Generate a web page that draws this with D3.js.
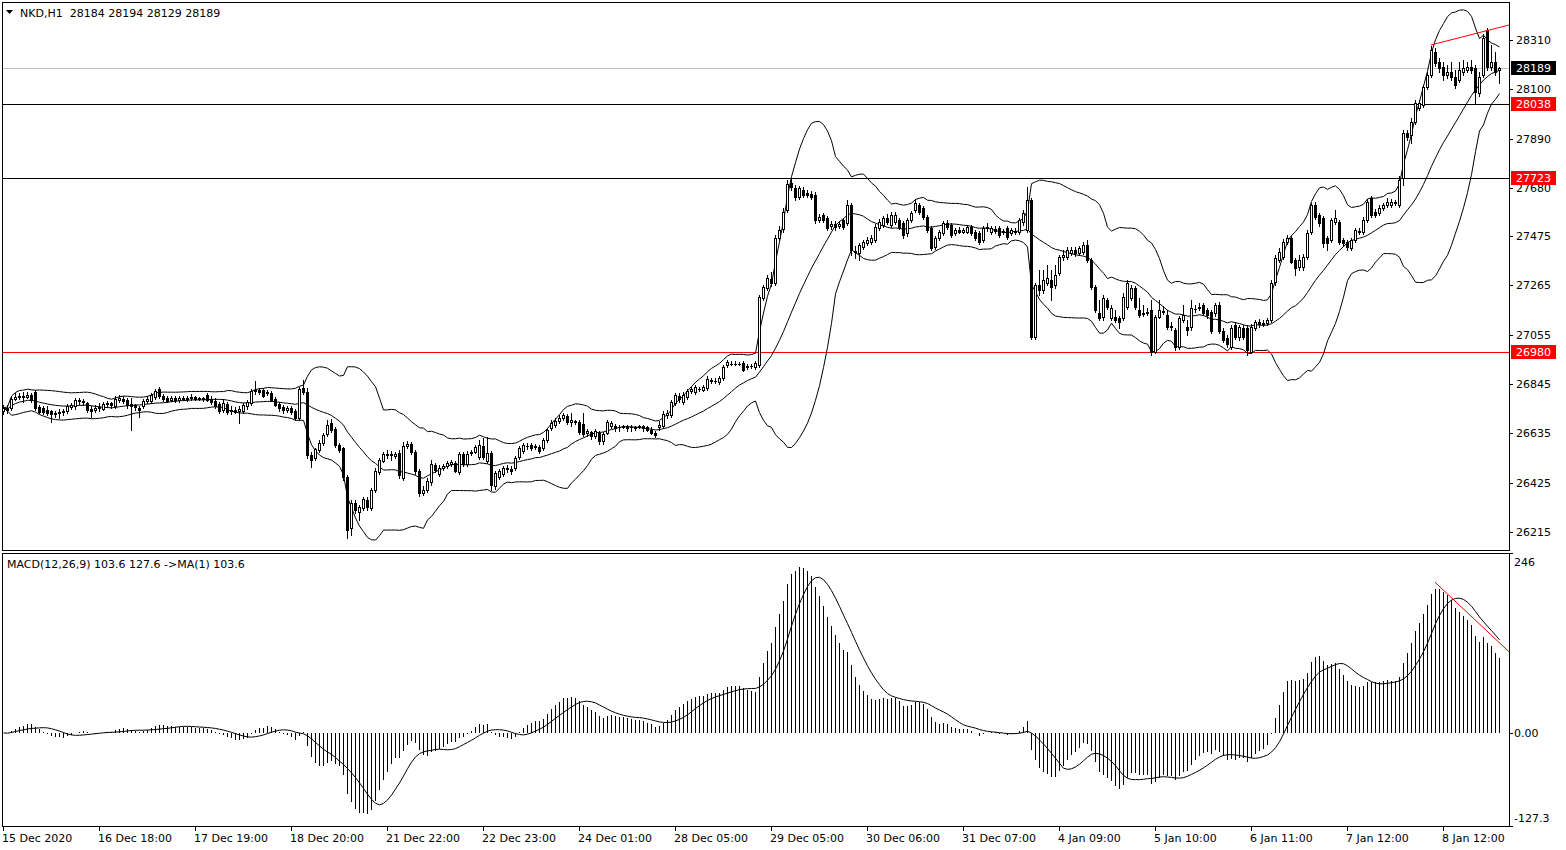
<!DOCTYPE html>
<html><head><meta charset="utf-8">
<script src="https://cdn.jsdelivr.net/npm/d3@7"></script>
<style>
body{margin:0;background:#fff;}
svg{display:block;}
text{font-family:"DejaVu Sans",sans-serif;font-size:11px;fill:#000;white-space:pre;}
</style>
</head><body>
<svg id="c" width="1566" height="850"></svg>
<script>
// ---------- DATA (NKD, H1) ----------
const OPEN=[
26730,26743,26743,26781,26789,26793,26789,26798,26810,26747,
26743,26734,26730,26717,26721,26726,26730,26747,26751,26777,
26773,26764,26738,26734,26743,26738,26760,26764,26751,26777,
26781,26777,26760,26756,26743,26751,26773,26773,26789,26823,
26793,26785,26777,26785,26777,26785,26781,26785,26789,26781,
26785,26798,26781,26773,26760,26734,26760,26730,26734,26730,
26730,26751,26764,26815,26819,26819,26806,26806,26781,26760,
26747,26734,26743,26730,26700,26828,26810,26543,26530,26564,
26594,26632,26679,26654,26585,26573,26449,26232,26338,26300,
26317,26351,26317,26394,26470,26517,26547,26543,26538,26551,
26445,26581,26590,26556,26474,26381,26394,26428,26500,26462,
26487,26496,26504,26509,26470,26547,26504,26551,26556,26534,
26581,26517,26551,26411,26449,26462,26487,26483,26487,26534,
26560,26581,26585,26577,26577,26573,26607,26658,26671,26688,
26700,26709,26683,26683,26683,26675,26637,26641,26624,26637,
26603,26637,26666,26666,26662,26662,26666,26662,26662,26662,
26666,26662,26649,26637,26662,26666,26713,26713,26764,26793,
26768,26789,26815,26810,26823,26819,26828,26858,26858,26853,
26870,26926,26930,26932,26930,26934,26922,26920,26917,26926,
27211,27254,27292,27275,27467,27505,27586,27701,27680,27641,
27671,27658,27654,27650,27543,27565,27552,27518,27526,27518,
27543,27531,27607,27411,27403,27428,27445,27450,27458,27509,
27522,27552,27522,27535,27543,27531,27488,27543,27586,27607,
27594,27556,27509,27428,27467,27488,27531,27522,27488,27501,
27492,27492,27513,27492,27488,27458,27509,27492,27505,27509,
27492,27509,27488,27496,27492,27535,27501,27628,27045,27266,
27245,27275,27288,27266,27318,27386,27386,27403,27416,27403,
27407,27437,27373,27258,27147,27130,27203,27126,27130,27126,
27126,27173,27211,27254,27160,27147,27152,27160,26981,27130,
27156,27139,27092,27075,27003,27117,27088,27088,27164,27169,
27181,27160,27152,27147,27181,27071,27041,27003,27096,27045,
27083,27083,26981,27083,27109,27105,27105,27117,27279,27373,
27386,27450,27467,27373,27343,27343,27386,27492,27607,27565,
27552,27467,27458,27535,27535,27458,27450,27424,27458,27492,
27492,27543,27637,27577,27573,27594,27607,27607,27620,27607,
27722,27913,27905,27961,28020,28033,28110,28161,28259,28216,
28195,28161,28173,28152,28139,28173,28182,28195,28191,28084,
28161,28352,28195,28216,28184];
const HIGH=[
26756,26756,26794,26806,26806,26810,26810,26806,26819,26756,
26751,26751,26734,26730,26738,26738,26760,26764,26785,26785,
26781,26768,26751,26756,26764,26768,26773,26768,26793,26798,
26793,26785,26785,26760,26751,26781,26793,26806,26823,26832,
26802,26793,26793,26793,26793,26793,26793,26802,26793,26789,
26789,26806,26793,26785,26768,26781,26768,26751,26747,26751,
26764,26777,26823,26858,26828,26828,26819,26815,26789,26768,
26756,26751,26751,26738,26832,26862,26828,26556,26573,26607,
26637,26692,26696,26662,26594,26577,26458,26351,26351,26330,
26364,26364,26402,26487,26530,26556,26564,26560,26556,26564,
26598,26602,26598,26564,26483,26411,26445,26521,26509,26500,
26504,26517,26521,26517,26556,26556,26560,26564,26585,26607,
26615,26620,26560,26475,26483,26496,26500,26496,26539,26581,
26594,26594,26594,26590,26585,26615,26658,26692,26700,26713,
26721,26717,26721,26692,26692,26721,26654,26645,26654,26645,
26641,26692,26688,26675,26671,26671,26671,26671,26666,26671,
26671,26666,26662,26645,26688,26730,26734,26777,26806,26806,
26810,26823,26832,26840,26832,26840,26879,26870,26870,26879,
26926,26947,26943,26943,26939,26943,26930,26930,26943,27224,
27266,27309,27322,27479,27518,27594,27714,27722,27693,27688,
27684,27671,27667,27663,27569,27573,27560,27539,27539,27539,
27552,27628,27616,27433,27445,27458,27471,27479,27526,27548,
27560,27569,27577,27577,27552,27539,27552,27582,27633,27616,
27603,27565,27518,27475,27501,27539,27543,27531,27509,27513,
27509,27522,27522,27501,27496,27518,27531,27518,27518,27518,
27505,27518,27509,27509,27552,27586,27684,27637,27275,27330,
27330,27352,27330,27352,27394,27416,27428,27428,27428,27433,
27450,27458,27382,27266,27203,27224,27211,27181,27160,27135,
27232,27288,27266,27262,27211,27181,27169,27203,27139,27203,
27177,27160,27109,27083,27135,27181,27117,27203,27181,27190,
27190,27169,27160,27190,27194,27083,27054,27096,27109,27096,
27096,27096,27100,27117,27122,27117,27126,27288,27394,27424,
27463,27479,27475,27382,27394,27399,27501,27616,27620,27573,
27560,27475,27552,27586,27543,27467,27458,27467,27509,27509,
27556,27633,27645,27590,27607,27616,27637,27633,27628,27731,
27926,27926,27978,28054,28054,28118,28173,28284,28276,28233,
28216,28203,28216,28182,28216,28225,28216,28225,28203,28173,
28335,28361,28289,28259,28194];
const LOW=[
26717,26721,26734,26777,26781,26768,26785,26768,26734,26721,
26717,26713,26683,26704,26700,26713,26721,26738,26738,26760,
26756,26726,26704,26726,26730,26734,26747,26743,26743,26768,
26764,26743,26649,26734,26704,26743,26764,26764,26781,26785,
26773,26768,26773,26768,26768,26777,26773,26777,26777,26777,
26773,26773,26760,26743,26721,26726,26717,26717,26721,26679,
26721,26738,26756,26802,26802,26789,26798,26773,26751,26730,
26721,26726,26717,26692,26692,26802,26530,26492,26521,26556,
26585,26624,26641,26577,26556,26436,26189,26202,26296,26266,
26309,26309,26309,26385,26462,26513,26530,26521,26530,26445,
26436,26573,26547,26462,26368,26372,26385,26415,26470,26453,
26479,26487,26496,26470,26462,26496,26496,26543,26551,26526,
26526,26509,26394,26398,26441,26453,26470,26462,26479,26526,
26551,26568,26564,26568,26551,26564,26598,26649,26662,26679,
26692,26675,26666,26675,26632,26624,26624,26611,26615,26590,
26590,26632,26658,26645,26645,26658,26645,26645,26649,26658,
26645,26645,26632,26620,26649,26658,26700,26704,26756,26768,
26760,26781,26806,26802,26815,26815,26819,26849,26849,26845,
26862,26917,26926,26926,26926,26900,26909,26913,26909,26917,
27203,27245,27262,27266,27458,27492,27577,27671,27628,27633,
27641,27641,27633,27530,27535,27535,27501,27505,27501,27509,
27505,27522,27394,27382,27373,27420,27437,27441,27450,27501,
27513,27526,27513,27526,27505,27467,27475,27535,27577,27569,
27548,27492,27416,27420,27458,27479,27505,27471,27479,27488,
27488,27488,27479,27458,27441,27450,27496,27484,27488,27471,
27484,27462,27479,27484,27484,27522,27492,27037,27037,27224,
27232,27266,27203,27254,27309,27373,27377,27394,27390,27394,
27399,27364,27250,27152,27117,27117,27164,27117,27109,27083,
27117,27164,27203,27164,27130,27135,27139,26969,26977,27126,
27143,27079,27075,26990,26994,27109,27054,27075,27152,27160,
27139,27126,27062,27135,27062,27024,27003,26994,27037,27032,
27037,26969,26977,27075,27088,27092,27096,27109,27266,27364,
27377,27441,27360,27309,27330,27330,27377,27484,27548,27518,
27428,27416,27450,27526,27441,27433,27416,27416,27450,27484,
27484,27535,27556,27556,27565,27586,27599,27599,27607,27599,
27692,27884,27871,27952,28012,28024,28101,28152,28199,28173,
28139,28148,28139,28105,28131,28161,28173,28169,28041,28071,
28152,28182,28182,28161,28129];
const CLOSE=[
26743,26734,26781,26789,26793,26789,26798,26777,26743,26726,
26726,26721,26717,26721,26726,26730,26751,26756,26777,26773,
26768,26734,26730,26743,26747,26760,26764,26756,26781,26785,
26773,26756,26751,26747,26734,26773,26781,26798,26815,26793,
26781,26773,26785,26777,26785,26781,26785,26789,26781,26785,
26781,26777,26768,26751,26730,26764,26726,26734,26726,26738,
26756,26768,26815,26819,26810,26793,26810,26777,26756,26743,
26734,26743,26726,26700,26823,26810,26543,26521,26568,26594,
26628,26671,26649,26585,26564,26449,26223,26338,26309,26321,
26355,26321,26394,26474,26521,26547,26543,26547,26547,26458,
26581,26590,26556,26474,26381,26394,26432,26504,26479,26487,
26496,26509,26513,26474,26547,26504,26547,26556,26577,26585,
26534,26551,26415,26466,26475,26487,26483,26475,26530,26573,
26585,26583,26573,26581,26560,26607,26649,26679,26688,26700,
26713,26683,26692,26688,26641,26632,26645,26624,26645,26603,
26632,26683,26679,26658,26660,26666,26658,26664,26658,26666,
26658,26649,26637,26628,26671,26717,26721,26768,26798,26781,
26798,26815,26823,26832,26825,26832,26866,26860,26856,26870,
26917,26939,26932,26930,26932,26905,26917,26922,26934,27215,
27258,27296,27275,27467,27501,27577,27697,27684,27641,27680,
27650,27650,27641,27543,27556,27543,27509,27526,27513,27526,
27513,27607,27416,27407,27437,27450,27458,27467,27513,27535,
27552,27535,27565,27565,27513,27479,27543,27573,27616,27577,
27556,27501,27424,27467,27492,27531,27513,27479,27501,27492,
27501,27513,27488,27467,27450,27509,27513,27509,27496,27479,
27496,27471,27501,27492,27543,27573,27628,27045,27266,27245,
27288,27296,27258,27309,27386,27394,27416,27416,27403,27424,
27437,27373,27258,27160,27126,27211,27173,27169,27117,27109,
27215,27275,27254,27173,27139,27143,27147,26981,27130,27160,
27152,27088,27088,27003,27126,27139,27075,27169,27166,27173,
27147,27139,27071,27181,27071,27032,27015,27083,27045,27088,
27045,26990,27088,27109,27100,27100,27117,27275,27382,27407,
27450,27467,27364,27339,27373,27386,27488,27607,27556,27531,
27445,27445,27543,27552,27450,27445,27428,27458,27501,27496,
27543,27620,27565,27565,27594,27607,27620,27620,27616,27714,
27913,27896,27961,28041,28041,28110,28161,28267,28212,28191,
28161,28173,28152,28118,28182,28191,28195,28182,28088,28152,
28318,28195,28216,28173,28189];

const timeLabels=[
 {bar:0,text:"15 Dec 2020"},{bar:24,text:"16 Dec 18:00"},{bar:48,text:"17 Dec 19:00"},
 {bar:72,text:"18 Dec 20:00"},{bar:96,text:"21 Dec 22:00"},{bar:120,text:"22 Dec 23:00"},
 {bar:144,text:"24 Dec 01:00"},{bar:168,text:"28 Dec 05:00"},{bar:192,text:"29 Dec 05:00"},
 {bar:216,text:"30 Dec 06:00"},{bar:240,text:"31 Dec 07:00"},{bar:264,text:"4 Jan 09:00"},
 {bar:288,text:"5 Jan 10:00"},{bar:312,text:"6 Jan 11:00"},{bar:336,text:"7 Jan 12:00"},
 {bar:360,text:"8 Jan 12:00"}];
const priceTicks=[28310,28100,27890,27680,27475,27265,27055,26845,26635,26425,26215];
const macdTicks=[{v:246,t:"246"},{v:0,t:"0.00"},{v:-127.3,t:"-127.3"}];
const levels=[
 {p:28189,color:"#c0c0c0",box:"#000000"},
 {p:28038,color:"#000000",box:"#ff0000"},
 {p:27723,color:"#000000",box:"#ff0000"},
 {p:26980,color:"#ff0000",box:"#ff0000"}];
const priceTrend=[{bar:357,p:28289},{bar:376.5,p:28374}];
const macdTrend=[{bar:358,v:206},{bar:376.5,v:111}];
const headerText="NKD,H1  28184 28194 28129 28189";
const macdText="MACD(12,26,9) 103.6 127.6 ->MA(1) 103.6";

// ---------- INDICATORS ----------
const N=CLOSE.length;
const bb=CLOSE.map((c,i)=>{
  const s=CLOSE.slice(Math.max(0,i-19),i+1);
  const m=d3.mean(s);
  const sd=Math.sqrt(d3.mean(s,v=>(v-m)*(v-m)));
  return {i,m,u:m+2*sd,l:m-2*sd};
});
function ema(arr,n){const a=2/(n+1);let e=arr[0];return arr.map((v,i)=>i===0?e:(e=a*v+(1-a)*e));}
const e12=ema(CLOSE,12), e26=ema(CLOSE,26);
const macd=e12.map((v,i)=>v-e26[i]);
const signal=macd.map((v,i)=>d3.mean(macd.slice(Math.max(0,i-8),i+1)));

// ---------- LAYOUT ----------
const svg=d3.select("#c");
const L=2, R=1509, PT=2, PB=550, MT=553, MB=826;
const x=d3.scaleLinear().domain([0,374]).range([3,1499]);
const y=d3.scaleLinear().domain([26138,28472]).range([PB,PT]);
const ym=d3.scaleLinear().domain([-127.3,246]).range([MB,MT]);
const px=i=>Math.round(x(i));

const defs=svg.append("defs");
defs.append("clipPath").attr("id","cp").append("rect").attr("x",L+1).attr("y",PT+1).attr("width",R-L-1).attr("height",PB-PT-1);
defs.append("clipPath").attr("id","cm").append("rect").attr("x",L+1).attr("y",MT+1).attr("width",R-L-1).attr("height",MB-MT-1);

const gp=svg.append("g").attr("clip-path","url(#cp)");
const gm=svg.append("g").attr("clip-path","url(#cm)");

// horizontal levels
gp.selectAll("line.lvl").data(levels).join("line")
  .attr("x1",L).attr("x2",R)
  .attr("y1",d=>Math.round(y(d.p))+0.5).attr("y2",d=>Math.round(y(d.p))+0.5)
  .attr("stroke",d=>d.color).attr("stroke-width",1).attr("shape-rendering","crispEdges");

// bollinger
const lineB=k=>d3.line().x(d=>x(d.i)+0.5).y(d=>y(d[k]));
["u","m","l"].forEach(k=>{
  gp.append("path").datum(bb).attr("d",lineB(k)).attr("fill","none").attr("stroke","#000").attr("stroke-width",1);
});

// candles
const cg=gp.append("g");
for(let i=0;i<N;i++){
  const xc=px(i);
  cg.append("line").attr("x1",xc+0.5).attr("x2",xc+0.5)
    .attr("y1",Math.round(y(HIGH[i]))).attr("y2",Math.round(y(LOW[i]))+1)
    .attr("stroke","#000").attr("shape-rendering","crispEdges");
  const t=Math.round(y(Math.max(OPEN[i],CLOSE[i]))), b=Math.round(y(Math.min(OPEN[i],CLOSE[i])));
  const bull=CLOSE[i]>=OPEN[i];
  if(b-t<1){
    cg.append("line").attr("x1",xc-1).attr("x2",xc+2).attr("y1",t+0.5).attr("y2",t+0.5)
      .attr("stroke","#000").attr("shape-rendering","crispEdges");
  } else {
    cg.append("rect").attr("x",xc-0.5).attr("y",t+0.5).attr("width",2).attr("height",b-t)
      .attr("fill",bull?"#fff":"#000").attr("stroke","#000").attr("shape-rendering","crispEdges");
  }
}

// price trend line
gp.append("line").attr("x1",x(priceTrend[0].bar)).attr("y1",y(priceTrend[0].p))
  .attr("x2",x(priceTrend[1].bar)).attr("y2",y(priceTrend[1].p)).attr("stroke","#ff0000").attr("stroke-width",1);

// MACD histogram
gm.selectAll("line.h").data(macd).join("line")
  .attr("x1",(d,i)=>px(i)+0.5).attr("x2",(d,i)=>px(i)+0.5)
  .attr("y1",Math.round(ym(0))).attr("y2",d=>Math.round(ym(d)))
  .attr("stroke","#000").attr("stroke-width",1).attr("shape-rendering","crispEdges");
gm.append("path").datum(signal).attr("d",d3.line().x((d,i)=>x(i)+0.5).y(d=>ym(d)))
  .attr("fill","none").attr("stroke","#000").attr("stroke-width",1);
gm.append("line").attr("x1",x(macdTrend[0].bar)).attr("y1",ym(macdTrend[0].v))
  .attr("x2",x(macdTrend[1].bar)).attr("y2",ym(macdTrend[1].v)).attr("stroke","#ff0000").attr("stroke-width",1);

// frames
svg.append("rect").attr("x",L+0.5).attr("y",PT+0.5).attr("width",R-L).attr("height",PB-PT)
  .attr("fill","none").attr("stroke","#000").attr("shape-rendering","crispEdges");
svg.append("rect").attr("x",L+0.5).attr("y",MT+0.5).attr("width",R-L).attr("height",MB-MT)
  .attr("fill","none").attr("stroke","#000").attr("shape-rendering","crispEdges");

// right price axis
const ax=svg.append("g");
priceTicks.forEach(p=>{
  const yy=Math.round(y(p))+0.5;
  ax.append("line").attr("x1",R).attr("x2",R+4).attr("y1",yy).attr("y2",yy).attr("stroke","#000").attr("shape-rendering","crispEdges");
  ax.append("text").attr("x",1516).attr("y",yy).attr("dy","0.35em").text(p);
});
levels.forEach(d=>{
  const yy=Math.round(y(d.p));
  ax.append("rect").attr("x",R+2).attr("y",yy-7).attr("width",45).attr("height",14).attr("fill",d.box);
  ax.append("text").attr("x",1516).attr("y",yy+0.5).attr("dy","0.35em").style("fill","#fff").text(d.p);
});
// macd axis
macdTicks.forEach(d=>{
  let yy=Math.round(ym(d.v))+0.5;
  ax.append("line").attr("x1",R).attr("x2",R+4).attr("y1",yy).attr("y2",yy).attr("stroke","#000").attr("shape-rendering","crispEdges");
  let ty = d.v===246 ? 562 : (d.v===-127.3 ? 818 : yy);
  ax.append("text").attr("x",1514).attr("y",ty).attr("dy","0.35em").text(d.t);
});
// time axis
timeLabels.forEach(d=>{
  const xx=px(d.bar)+0.5;
  ax.append("line").attr("x1",xx).attr("x2",xx).attr("y1",MB).attr("y2",MB+5).attr("stroke","#000").attr("shape-rendering","crispEdges");
  ax.append("text").attr("x",xx-1.5).attr("y",842).text(d.text);
});

// header
svg.append("path").attr("d","M6,10 L13,10 L9.5,14 Z").attr("fill","#000");
svg.append("text").attr("x",20).attr("y",17).text(headerText);
svg.append("text").attr("x",7).attr("y",568).text(macdText);
</script>
</body></html>
